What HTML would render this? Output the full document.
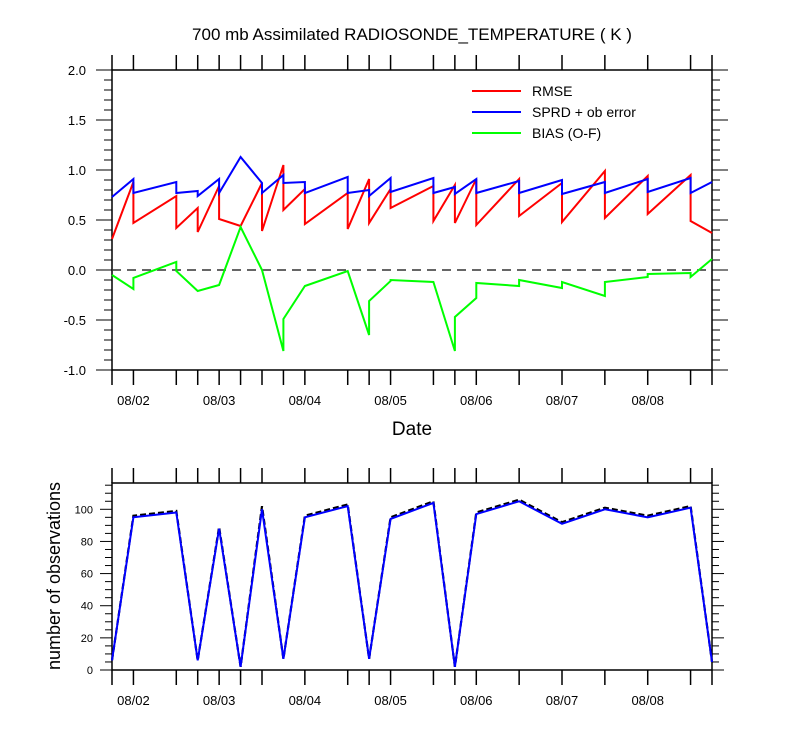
<!DOCTYPE html>
<html><head><meta charset="utf-8"><style>
body{margin:0;background:#fff;}
svg{display:block;font-family:"Liberation Sans",Arial,sans-serif;}
</style></head><body>
<svg id="chart" width="800" height="750" viewBox="0 0 800 750">
<text x="412" y="40" font-size="17" text-anchor="middle">700 mb Assimilated RADIOSONDE_TEMPERATURE ( K )</text>
<text x="412" y="435" font-size="19" text-anchor="middle">Date</text>
<text transform="translate(60,576) rotate(-90)" font-size="18" text-anchor="middle">number of observations</text>
<g id="top"></g>
<g id="bot"></g>
<g>
<line x1="472" y1="91" x2="521" y2="91" stroke="#ff0000" stroke-width="2"/>
<text x="532" y="96" font-size="14">RMSE</text>
<line x1="472" y1="112" x2="521" y2="112" stroke="#0000ff" stroke-width="2"/>
<text x="532" y="117" font-size="14">SPRD + ob error</text>
<line x1="472" y1="133" x2="521" y2="133" stroke="#00ff00" stroke-width="2"/>
<text x="532" y="138" font-size="14">BIAS (O-F)</text>
</g>
</svg>
<script>
// time index in 6-hour steps from 08/01 18Z
const times = [0,1,1,3,3,4,4,5,5,6,7,7,8,8,9,9,11,11,12,12,13,13,15,15,16,16,17,17,19,19,21,21,23,23,25,25,27,27,28];
const rmse = [0.31,0.88,0.47,0.74,0.42,0.62,0.38,0.84,0.51,0.44,0.87,0.39,1.05,0.60,0.81,0.46,0.77,0.41,0.91,0.47,0.81,0.62,0.84,0.49,0.85,0.47,0.91,0.45,0.91,0.54,0.87,0.48,0.99,0.52,0.94,0.56,0.95,0.49,0.37];
const sprd = [0.73,0.91,0.77,0.88,0.77,0.79,0.74,0.91,0.77,1.13,0.87,0.77,0.95,0.87,0.88,0.77,0.93,0.77,0.80,0.74,0.92,0.78,0.92,0.77,0.83,0.76,0.91,0.77,0.89,0.77,0.90,0.76,0.88,0.77,0.91,0.78,0.92,0.77,0.88];
const bias = [-0.05,-0.19,-0.08,0.08,-0.01,-0.21,-0.21,-0.15,-0.15,0.43,0.00,0.00,-0.81,-0.49,-0.16,-0.16,-0.01,-0.01,-0.65,-0.31,-0.11,-0.10,-0.12,-0.12,-0.81,-0.47,-0.28,-0.13,-0.16,-0.10,-0.18,-0.12,-0.26,-0.12,-0.07,-0.04,-0.03,-0.07,0.11];
const obsTimes = [0,1,3,4,5,6,7,8,9,11,12,13,15,16,17,19,21,23,25,27,28];
const obsUsed = [6,95,98,6,88,2,100,7,95,102,7,94,104,2,97,105,91,100,95,101,5];
const obsTotal = [6,96,99,6,89,2,102,7,96,103,7,95,105,2,98,106,92,101,96,102,5];
const dateLabels = ["08/02","08/03","08/04","08/05","08/06","08/07","08/08"];
const dateTimes = [1,5,9,13,17,21,25];
const topTickTimes = [0,1,3,4,5,6,7,8,9,11,12,13,15,16,17,19,21,23,25,27,28];
const botTickTimes = [0,1,3,4,5,6,7,9,11,12,13,15,16,17,19,21,23,25,27,28];
const topYLabels = ["-1.0","-0.5","0.0","0.5","1.0","1.5","2.0"];
const botYLabels = ["0","20","40","60","80","100"];

const NS="http://www.w3.org/2000/svg";
const X0=112,X1=712,TMAX=28;
const x=t=>X0+(X1-X0)*t/TMAX;
const yT=v=>270-100*v;
const yB=v=>670-1.607*v;
function mk(tag,attrs,parent){const e=document.createElementNS(NS,tag);for(const k in attrs)e.setAttribute(k,attrs[k]);parent.appendChild(e);return e;}
const topG=document.getElementById('top'), botG=document.getElementById('bot');

function frame(g,yTop,yBot,ticks){
  let r=mk('rect',{x:X0,y:yTop,width:X1-X0,height:yBot-yTop,fill:'none',stroke:'#000','stroke-width':1.5},g);
  
  
  ticks.forEach(t=>{
    let a=mk('line',{x1:x(t),x2:x(t),y1:yTop,y2:yTop-15,stroke:'#000','stroke-width':1.5},g);
    
    
    let b=mk('line',{x1:x(t),x2:x(t),y1:yBot,y2:yBot+15,stroke:'#000','stroke-width':1.5},g);
    
    
  });
  dateLabels.forEach((d,i)=>{
    let tx=mk('text',{x:x(dateTimes[i]),y:yBot+35,'font-size':13,'text-anchor':'middle'},g);
    tx.textContent=d;
    
    
  });
}
function line(g,xs,ys,yf,color,name,dash,w){
  const p=xs.map((t,i)=>x(t).toFixed(1)+','+yf(ys[i]).toFixed(1)).join(' ');
  const a={points:p,fill:'none',stroke:color,'stroke-width':w||2,'stroke-linejoin':'miter'};
  if(dash)a['stroke-dasharray']=dash;
  const e=mk('polyline',a,g);
  
  
}

// top plot
frame(topG,70,370,topTickTimes);
for(let k=0;k<=30;k++){
  const v=-1+k*0.1, major=k%5===0, yy=yT(v);
  let l=mk('line',{x1:X0,x2:X0-(major?16:8),y1:yy,y2:yy,stroke:'#000','stroke-width':1},topG);
  
  
  let r=mk('line',{x1:X1,x2:X1+(major?16:8),y1:yy,y2:yy,stroke:'#000','stroke-width':1},topG);
  
  
}
topYLabels.forEach((s,i)=>{
  let t=mk('text',{x:86,y:yT(-1+i*0.5)+5,'font-size':13,'text-anchor':'end'},topG);
  t.textContent=s;
  
  
});
let zl=mk('line',{x1:X0,x2:X1,y1:yT(0),y2:yT(0),stroke:'#333','stroke-width':1.5,'stroke-dasharray':'9,6'},topG);


line(topG,times,rmse,yT,'#ff0000','rmse-line');
line(topG,times,sprd,yT,'#0000ff','sprd-line');
line(topG,times,bias,yT,'#00ff00','bias-line');

// bottom plot
frame(botG,483,670,botTickTimes);
for(let v=0;v<=115;v+=5){
  const major=v%20===0, yy=yB(v);
  let l=mk('line',{x1:X0,x2:X0-(major?12:7),y1:yy,y2:yy,stroke:'#000','stroke-width':1},botG);
  
  
  let r=mk('line',{x1:X1,x2:X1+(major?12:7),y1:yy,y2:yy,stroke:'#000','stroke-width':1},botG);
  
  
}
botYLabels.forEach((s,i)=>{
  let t=mk('text',{x:93,y:yB(i*20)+4,'font-size':11,'text-anchor':'end'},botG);
  t.textContent=s;
  
  
});
line(botG,obsTimes,obsTotal,yB,'#000','obs-total-line','6,3',2.2);
line(botG,obsTimes,obsUsed,yB,'#0000ff','obs-used-line',null,2);
</script>
</body></html>
